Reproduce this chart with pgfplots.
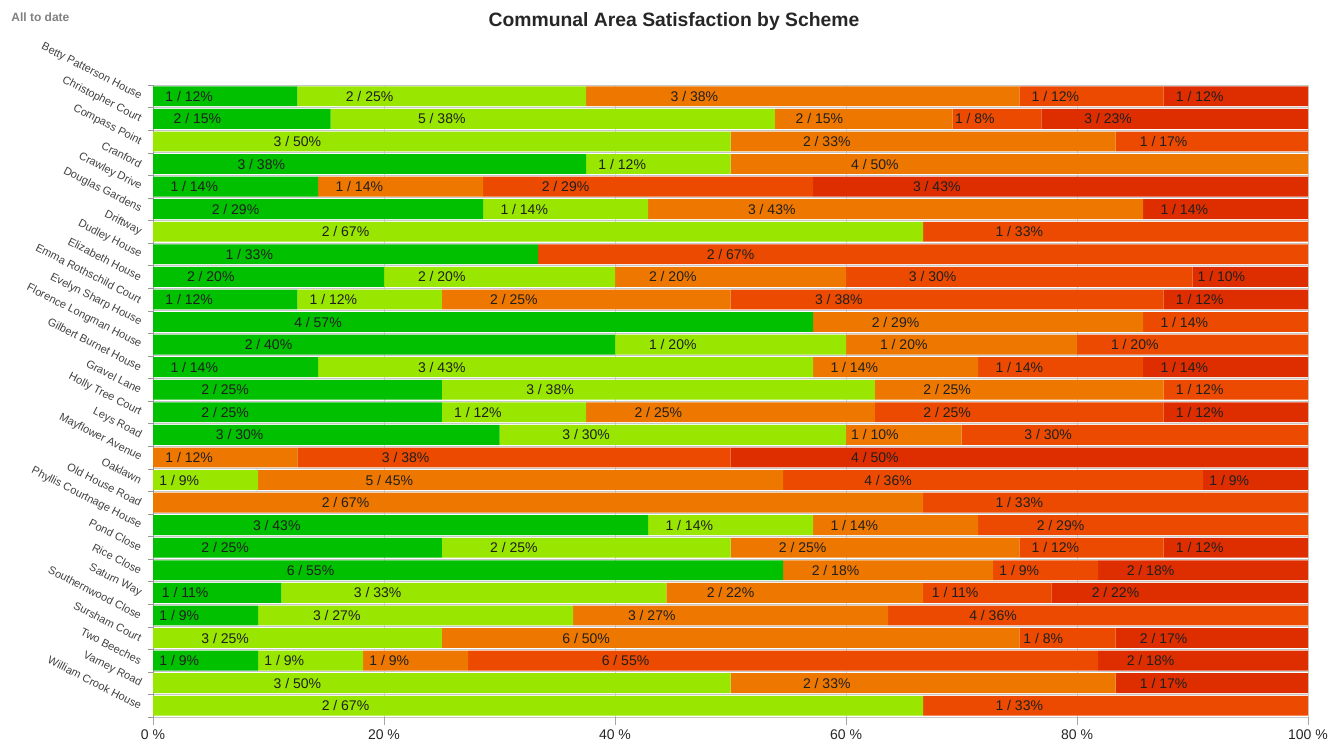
\documentclass[border=0pt]{standalone}
\usepackage{fontspec}
\setmainfont{Liberation Sans}
\usepackage{pgfplots}
\pgfplotsset{compat=1.18}
\definecolor{c1}{HTML}{00C000}
\definecolor{c2}{HTML}{99E600}
\definecolor{c3}{HTML}{EE7700}
\definecolor{c4}{HTML}{EC4A00}
\definecolor{c5}{HTML}{DE2E00}
% the node style is applied twice, so a quarter of the width moves it to the middle
\pgfplotsset{
  seg/.style={fill=#1, draw=none,
    nodes near coords, point meta=explicit symbolic,
    visualization depends on={rawx \as \w},
    every node near coord/.append style={anchor=center,
      shift={(axis direction cs:-\w/4,0)}}},
}
\begin{document}
\begin{tikzpicture}
\useasboundingbox (0,0) rectangle (997.5pt,-558.75pt);
\node[anchor=west, text=black!50, font=\bfseries\fontsize{9}{10}\selectfont] at (5pt,-12.75pt) {All to date};
\node[font=\bfseries\fontsize{14.5}{16}\selectfont, text=black!85] at (505.5pt,-16pt) {Communal Area Satisfaction by Scheme};
\begin{axis}[
  at={(114.75pt,-537.75pt)}, anchor=south west,
  scale only axis, width=866.25pt, height=474pt,
  xbar stacked, bar width=0.88,
  xmin=0, xmax=100, ymin=-0.5, ymax=27.5,
  y dir=reverse,
  axis x line*=bottom, axis y line*=left,
  x axis line style={draw=none},
  y axis line style={draw=black!40},
  tick align=outside,
  major tick length=6pt, minor tick length=3.5pt,
  xtick={0,20,40,60,80,100},
  xticklabels={0 \%, 20 \%, 40 \%, 60 \%, 80 \%, 100 \%},
  xticklabel style={font=\fontsize{10.5}{12}\selectfont, text=black!85},
  major x tick style={draw=black!35},
  xmajorgrids, major x grid style={draw=black!18},
  ytick={0,...,27},
  minor ytick={-0.5,0.5,...,27.5},
  major y tick style={draw=none},
  minor y tick style={draw=black!40},
  yminorgrids, minor y grid style={draw=black!22, line width=0.7pt},
  yticklabels={Betty Patterson House, Christopher Court, Compass Point, Cranford,
    Crawley Drive, Douglas Gardens, Driftway, Dudley House, Elizabeth House,
    Emma Rothschild Court, Evelyn Sharp House, Florence Longman House,
    Gilbert Burnet House, Gravel Lane, Holly Tree Court, Leys Road,
    Mayflower Avenue, Oaklawn, Old House Road, Phyllis Courtnage House,
    Pond Close, Rice Close, Saturn Way, Southernwood Close, Sursham Court,
    Two Beeches, Varney Road, William Crook House},
  yticklabel style={yshift=-2pt, rotate=-27, anchor=east, font=\fontsize{8.3}{9}\selectfont, text=black!75},
  every node near coord/.append style={font=\fontsize{10.5}{12}\selectfont, text=black!88},
]
% very satisfied
\addplot[seg=c1] coordinates {
  (12.5,0) [1 / 12\%] (15.385,1) [2 / 15\%] (0,2) [] (37.5,3) [3 / 38\%]
  (14.286,4) [1 / 14\%] (28.571,5) [2 / 29\%] (0,6) [] (33.333,7) [1 / 33\%]
  (20,8) [2 / 20\%] (12.5,9) [1 / 12\%] (57.143,10) [4 / 57\%] (40,11) [2 / 40\%]
  (14.286,12) [1 / 14\%] (25,13) [2 / 25\%] (25,14) [2 / 25\%] (30,15) [3 / 30\%]
  (0,16) [] (0,17) [] (0,18) [] (42.857,19) [3 / 43\%]
  (25,20) [2 / 25\%] (54.545,21) [6 / 55\%] (11.111,22) [1 / 11\%] (9.091,23) [1 / 9\%]
  (0,24) [] (9.091,25) [1 / 9\%] (0,26) [] (0,27) []
};
% satisfied
\addplot[seg=c2] coordinates {
  (25,0) [2 / 25\%] (38.462,1) [5 / 38\%] (50,2) [3 / 50\%] (12.5,3) [1 / 12\%]
  (0,4) [] (14.286,5) [1 / 14\%] (66.667,6) [2 / 67\%] (0,7) []
  (20,8) [2 / 20\%] (12.5,9) [1 / 12\%] (0,10) [] (20,11) [1 / 20\%]
  (42.857,12) [3 / 43\%] (37.5,13) [3 / 38\%] (12.5,14) [1 / 12\%] (30,15) [3 / 30\%]
  (0,16) [] (9.091,17) [1 / 9\%] (0,18) [] (14.286,19) [1 / 14\%]
  (25,20) [2 / 25\%] (0,21) [] (33.333,22) [3 / 33\%] (27.273,23) [3 / 27\%]
  (25,24) [3 / 25\%] (9.091,25) [1 / 9\%] (50,26) [3 / 50\%] (66.667,27) [2 / 67\%]
};
% neither
\addplot[seg=c3] coordinates {
  (37.5,0) [3 / 38\%] (15.385,1) [2 / 15\%] (33.333,2) [2 / 33\%] (50,3) [4 / 50\%]
  (14.286,4) [1 / 14\%] (42.857,5) [3 / 43\%] (0,6) [] (0,7) []
  (20,8) [2 / 20\%] (25,9) [2 / 25\%] (28.571,10) [2 / 29\%] (20,11) [1 / 20\%]
  (14.286,12) [1 / 14\%] (25,13) [2 / 25\%] (25,14) [2 / 25\%] (10,15) [1 / 10\%]
  (12.5,16) [1 / 12\%] (45.455,17) [5 / 45\%] (66.667,18) [2 / 67\%] (14.286,19) [1 / 14\%]
  (25,20) [2 / 25\%] (18.182,21) [2 / 18\%] (22.222,22) [2 / 22\%] (27.273,23) [3 / 27\%]
  (50,24) [6 / 50\%] (9.091,25) [1 / 9\%] (33.333,26) [2 / 33\%] (0,27) []
};
% dissatisfied
\addplot[seg=c4] coordinates {
  (12.5,0) [1 / 12\%] (7.692,1) [1 / 8\%] (16.667,2) [1 / 17\%] (0,3) []
  (28.571,4) [2 / 29\%] (0,5) [] (33.333,6) [1 / 33\%] (66.667,7) [2 / 67\%]
  (30,8) [3 / 30\%] (37.5,9) [3 / 38\%] (14.286,10) [1 / 14\%] (20,11) [1 / 20\%]
  (14.286,12) [1 / 14\%] (12.5,13) [1 / 12\%] (25,14) [2 / 25\%] (30,15) [3 / 30\%]
  (37.5,16) [3 / 38\%] (36.364,17) [4 / 36\%] (33.333,18) [1 / 33\%] (28.571,19) [2 / 29\%]
  (12.5,20) [1 / 12\%] (9.091,21) [1 / 9\%] (11.111,22) [1 / 11\%] (36.363,23) [4 / 36\%]
  (8.333,24) [1 / 8\%] (54.545,25) [6 / 55\%] (0,26) [] (33.333,27) [1 / 33\%]
};
% very dissatisfied
\addplot[seg=c5] coordinates {
  (12.5,0) [1 / 12\%] (23.076,1) [3 / 23\%] (0,2) [] (0,3) []
  (42.857,4) [3 / 43\%] (14.286,5) [1 / 14\%] (0,6) [] (0,7) []
  (10,8) [1 / 10\%] (12.5,9) [1 / 12\%] (0,10) [] (0,11) []
  (14.285,12) [1 / 14\%] (0,13) [] (12.5,14) [1 / 12\%] (0,15) []
  (50,16) [4 / 50\%] (9.090,17) [1 / 9\%] (0,18) [] (0,19) []
  (12.5,20) [1 / 12\%] (18.182,21) [2 / 18\%] (22.222,22) [2 / 22\%] (0,23) []
  (16.667,24) [2 / 17\%] (18.182,25) [2 / 18\%] (16.667,26) [1 / 17\%] (0,27) []
};
\end{axis}
\end{tikzpicture}
\end{document}
